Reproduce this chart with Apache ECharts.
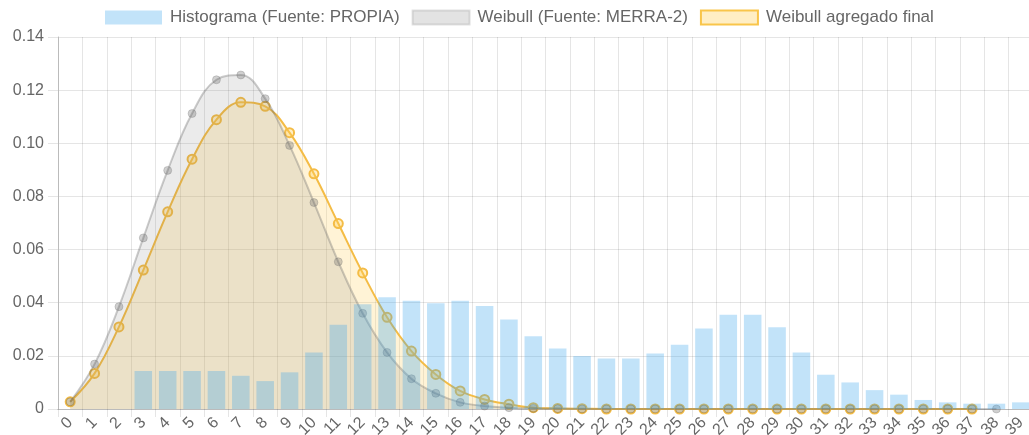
<!DOCTYPE html>
<html>
<head>
<meta charset="utf-8">
<title>Histograma y Weibull</title>
<script src="https://cdn.jsdelivr.net/npm/echarts@6/dist/echarts.min.js"></script>
<style>
  html, body { margin: 0; padding: 0; background: #fff; }
  #chart { width: 1029px; height: 435px; }
</style>
</head>
<body>
<div id="chart"></div>
<script>
// categorias del eje x (velocidad, m/s)
const categorias = ['0', '1', '2', '3', '4', '5', '6', '7', '8', '9',
  '10', '11', '12', '13', '14', '15', '16', '17', '18', '19',
  '20', '21', '22', '23', '24', '25', '26', '27', '28', '29',
  '30', '31', '32', '33', '34', '35', '36', '37', '38', '39']

// histograma (fuente propia)
const histograma = [0, 0, 0, 0.0143, 0.0143, 0.0143, 0.0143, 0.0125, 0.0105, 0.0138,
  0.0213, 0.0317, 0.0394, 0.0421, 0.0407, 0.0398, 0.0407, 0.0388, 0.0337, 0.0274,
  0.0228, 0.0199, 0.0190, 0.0190, 0.0209, 0.0242, 0.0303, 0.0355, 0.0355, 0.0308,
  0.0213, 0.0129, 0.0100, 0.0071, 0.0054, 0.0034, 0.0025, 0.0020, 0.0020, 0.0025]

// weibull MERRA-2
const weibullMerra = [0.0027, 0.0169, 0.0385, 0.0644, 0.0898, 0.1112, 0.1239, 0.1257, 0.1168, 0.0992,
  0.0777, 0.0554, 0.0360, 0.0213, 0.0114, 0.0059, 0.0025, 0.0011, 0.0005, 0.0002,
  0.0001, 0, 0, 0, 0, 0, 0, 0, 0, 0,
  0, 0, 0, 0, 0, 0, 0, 0, 0]

// weibull agregado final
const weibullFinal = [0.0027, 0.0134, 0.0309, 0.0523, 0.0742, 0.0940, 0.1089, 0.1154, 0.1139, 0.1040,
  0.0885, 0.0698, 0.0512, 0.0345, 0.0218, 0.0130, 0.0068, 0.0036, 0.0018, 0.0005,
  0.0002, 0.0001, 0, 0, 0, 0, 0, 0, 0, 0,
  0, 0, 0, 0, 0, 0, 0, 0]

const fuente = "'Liberation Sans', Arial, Helvetica, sans-serif"
const gris = 'rgba(0,0,0,0.1)'

let chart = echarts.init(document.getElementById('chart'))
let option = {
  animation: false,
  textStyle: { fontFamily: fuente },
  legend: {
    left: 105,
    top: 9,
    padding: 0,
    itemWidth: 57,
    itemHeight: 14,
    itemGap: 12,
    icon: 'rect',
    textStyle: { fontFamily: fuente, fontSize: 17, color: '#666', padding: [0, 0, 0, 3] },
    data: [
      { name: 'Histograma (Fuente: PROPIA)', itemStyle: { color: 'rgba(54,162,235,0.3)', borderWidth: 0 } },
      { name: 'Weibull (Fuente: MERRA-2)', itemStyle: { color: 'rgba(107,107,107,0.19)', borderColor: 'rgba(107,107,107,0.2)', borderWidth: 2 } },
      { name: 'Weibull agregado final', itemStyle: { color: 'rgba(255,206,86,0.35)', borderColor: '#f9c54a', borderWidth: 2 } }
    ]
  },
  grid: {
    left: 58,
    right: -4,
    top: 37,
    bottom: 26,
    containLabel: false,
    outerBoundsMode: 'none'
  },
  xAxis: {
    type: 'category',
    data: categorias,
    boundaryGap: true,
    axisLine: { lineStyle: { color: '#bbb', width: 1 } },
    axisTick: { show: true, length: 8, alignWithLabel: false, lineStyle: { color: gris } },
    axisLabel: { interval: 0, rotate: 45, margin: 11, color: '#666', fontSize: 16, fontFamily: fuente },
    splitLine: { show: true, interval: 0, lineStyle: { color: gris } }
  },
  yAxis: {
    type: 'value',
    min: 0,
    max: 0.14,
    interval: 0.02,
    axisLine: { show: true, lineStyle: { color: '#bbb', width: 1 } },
    axisTick: { show: true, length: 10, lineStyle: { color: gris } },
    axisLabel: {
      margin: 14,
      color: '#666',
      fontSize: 16,
      fontFamily: fuente,
      formatter: function (v) {
        return v === 0 ? '0' : v.toFixed(2)
      }
    },
    splitLine: { lineStyle: { color: gris } }
  },
  series: [
    {
      name: 'Weibull agregado final',
      type: 'line',
      z: 2,
      smooth: 0.4,
      data: weibullFinal,
      symbol: 'circle',
      symbolSize: 9,
      showAllSymbol: true,
      lineStyle: { color: '#f4bc45', width: 2 },
      itemStyle: { color: 'rgba(255,206,86,0.35)', borderColor: '#f4bc45', borderWidth: 2 },
      areaStyle: { color: 'rgba(255,206,86,0.35)' }
    },
    {
      name: 'Weibull (Fuente: MERRA-2)',
      type: 'line',
      z: 3,
      smooth: 0.4,
      data: weibullMerra,
      symbol: 'circle',
      symbolSize: 8,
      showAllSymbol: true,
      lineStyle: { color: 'rgba(107,107,107,0.35)', width: 2 },
      itemStyle: { color: 'rgba(100,100,100,0.3)', borderColor: 'rgba(100,100,100,0.25)', borderWidth: 1 },
      areaStyle: { color: 'rgba(107,107,107,0.19)' }
    },
    {
      name: 'Histograma (Fuente: PROPIA)',
      type: 'bar',
      z: 4,
      barWidth: '72%',
      data: histograma,
      itemStyle: { color: 'rgba(54,162,235,0.3)' }
    }
  ]
}
chart.setOption(option)
window.addEventListener('resize', function () {
  chart.resize()
})
</script>
</body>
</html>
